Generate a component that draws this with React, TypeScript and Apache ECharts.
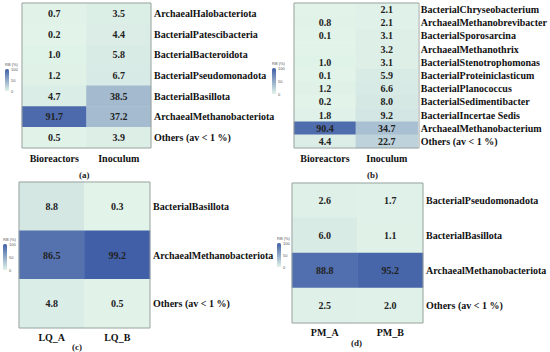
import React, { useEffect, useRef } from "react";
import * as echarts from "echarts";

const catsA = ["ArchaealHalobacteriota", "BacterialPatescibacteria", "BacterialBacteroidota", "BacterialPseudomonadota", "BacterialBasillota", "ArchaealMethanobacteriota", "Others (av < 1 %)"];
const colsA = ["Bioreactors", "Inoculum"];
const bioA = [0.7, 0.2, 1.0, 1.2, 4.7, 91.7, 0.5];
const inocA = [3.5, 4.4, 5.8, 6.7, 38.5, 37.2, 3.9];

const catsB = ["BacterialChryseobacterium", "ArchaealMethanobrevibacter", "BacterialSporosarcina", "ArchaealMethanothrix", "BacterialStenotrophomonas", "BacterialProteiniclasticum", "BacterialPlanococcus", "BacterialSedimentibacter", "BacterialIncertae Sedis", "ArchaealMethanobacterium", "Others (av < 1 %)"];
const colsB = ["Bioreactors", "Inoculum"];
const bioB: (number | null)[] = [null, 0.8, 0.1, null, 1.0, 0.1, 1.2, 0.2, 1.8, 90.4, 4.4];
const inocB = [2.1, 2.1, 3.1, 3.2, 3.1, 5.9, 6.6, 8.0, 9.2, 34.7, 22.7];

const catsC = ["BacterialBasillota", "ArchaealMethanobacteriota", "Others (av < 1 %)"];
const colsC = ["LQ_A", "LQ_B"];
const lqA = [8.8, 86.5, 4.8];
const lqB = [0.3, 99.2, 0.5];

const catsD = ["BacterialPseudomonadota", "BacterialBasillota", "ArchaealMethanobacteriota", "Others (av < 1 %)"];
const colsD = ["PM_A", "PM_B"];
const pmA = [2.6, 6.0, 88.8, 2.5];
const pmB = [1.7, 1.1, 95.2, 2.0];

const captions = ["(a)", "(b)", "(c)", "(d)"];
const legendTicks = ["100", "50", "0"];

const FONT = "Liberation Serif";
const COLORS = ["#e2f4e9", "#3f5ea6"];

type Panel = {
  cats: string[];
  cols: string[];
  vals: (number | null)[][];
  grid: { left: number; top: number; width: number; height: number };
  vm: { left: number; top: number; h: number };
  cap: { x: number; y: number };
  xMargin: number;
};

const panels: Panel[] = [
  { cats: catsA, cols: colsA, vals: [bioA, inocA], grid: { left: 22, top: 3, width: 129, height: 145 }, vm: { left: 5, top: 69, h: 22 }, cap: { x: 85, y: 175 }, xMargin: 5 },
  { cats: catsB, cols: colsB, vals: [bioB, inocB], grid: { left: 294, top: 3, width: 125, height: 145 }, vm: { left: 272, top: 68, h: 26 }, cap: { x: 373, y: 175 }, xMargin: 5 },
  { cats: catsC, cols: colsC, vals: [lqA, lqB], grid: { left: 19, top: 182, width: 131, height: 146 }, vm: { left: 3, top: 244, h: 26 }, cap: { x: 78, y: 347 }, xMargin: 4 },
  { cats: catsD, cols: colsD, vals: [pmA, pmB], grid: { left: 292, top: 183, width: 131, height: 140 }, vm: { left: 277, top: 243, h: 24 }, cap: { x: 357, y: 343 }, xMargin: 4 },
];

export default function App() {
  const ref = useRef<HTMLDivElement>(null);
  useEffect(() => {
    if (!ref.current) return;
    const chart = echarts.init(ref.current, undefined, { renderer: "svg" });
    const grids: any[] = [];
    const xAxes: any[] = [];
    const yAxes: any[] = [];
    const series: any[] = [];
    const vms: any[] = [];
    const graphics: any[] = [];
    panels.forEach((p, i) => {
      grids.push({ ...p.grid });
      xAxes.push({
        type: "category", gridIndex: i, data: p.cols, position: "bottom",
        axisLine: { show: false }, axisTick: { show: false }, splitArea: { show: false },
        axisLabel: { interval: 0, fontFamily: FONT, fontWeight: "bold", fontSize: 10, color: "#111", margin: p.xMargin },
      });
      yAxes.push({
        type: "category", gridIndex: i, data: p.cats, inverse: true, position: "right",
        axisLine: { show: false }, axisTick: { show: false },
        axisLabel: { interval: 0, fontFamily: FONT, fontWeight: "bold", fontSize: 10, color: "#111", margin: 3, align: "left" },
      });
      const data: any[] = [];
      p.vals.forEach((col, ci) => {
        col.forEach((v, ri) => {
          if (v === null) {
            data.push({ value: [ci, ri, 0], label: { show: false } });
          } else {
            data.push({ value: [ci, ri, v] });
          }
        });
      });
      series.push({
        type: "heatmap", xAxisIndex: i, yAxisIndex: i, data,
        label: {
          show: true, fontFamily: FONT, fontWeight: "bold", fontSize: 10, color: "#222",
          formatter: (d: any) => Number(d.value[2]).toFixed(1),
        },
        emphasis: { disabled: true },
      });
      vms.push({
        type: "continuous", seriesIndex: i, min: 0, max: 100, calculable: false,
        inRange: { color: COLORS }, orient: "vertical", itemWidth: 4, itemHeight: p.vm.h,
        left: p.vm.left, top: p.vm.top, padding: 0, text: null, showLabel: false, hoverLink: false,
      });
      graphics.push({
        type: "rect", z: 100,
        shape: { x: p.grid.left, y: p.grid.top, width: p.grid.width, height: p.grid.height },
        style: { fill: "none", stroke: "#9aa3a0", lineWidth: 1 },
      });
      graphics.push({
        type: "text", left: p.cap.x - 6, top: p.cap.y - 5,
        style: { text: captions[i], fontFamily: FONT, fontWeight: "bold", fontSize: 9, fill: "#222" },
      });
      graphics.push({
        type: "text", left: p.vm.left, top: p.vm.top - 7,
        style: { text: "RB (%)", fontFamily: "Liberation Sans", fontSize: 4, fill: "#555" },
      });
      legendTicks.forEach((t, k) => {
        graphics.push({
          type: "text", left: p.vm.left + 6, top: p.vm.top - 2 + (k * p.vm.h) / 2,
          style: { text: t, fontFamily: "Liberation Sans", fontSize: 4, fill: "#555" },
        });
      });
    });
    chart.setOption({
      animation: false,
      backgroundColor: "#ffffff",
      grid: grids,
      xAxis: xAxes,
      yAxis: yAxes,
      visualMap: vms,
      series,
      graphic: graphics,
    });
    return () => chart.dispose();
  }, []);
  return <div ref={ref} style={{ position: "fixed", left: 0, top: 0, width: 550, height: 352 }} />;
}
